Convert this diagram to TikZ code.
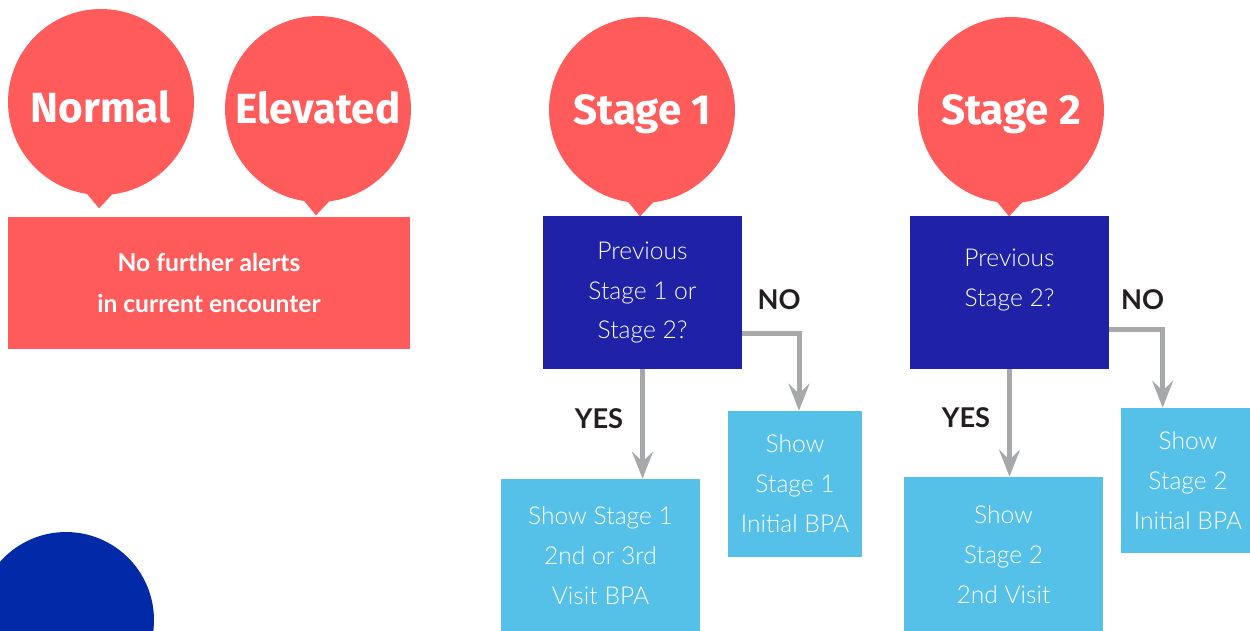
\documentclass[tikz,border=0pt]{standalone}
\usepackage{fontspec}
\setmainfont{Lato}
\newfontfamily\thinfont{Lato Light}
\newfontfamily\bubblefont{Fira Sans}
\usetikzlibrary{arrows.meta,positioning,calc}
\definecolor{alertred}{HTML}{FF5B5B}
\definecolor{deepblue}{HTML}{1F22A6}
\definecolor{skyblue}{HTML}{56C1E8}
\definecolor{royal}{HTML}{022AA8}
\definecolor{flowgray}{HTML}{A7A8AA}
\definecolor{ink}{HTML}{231F20}
\tikzset{
  bubble/.style={circle, fill=alertred, minimum size=3.72cm, inner sep=0pt, text height=0.58cm, text depth=0pt, text=white, font=\bubblefont\bfseries\fontsize{24}{28}\selectfont},
  qtext/.style={text=white, align=center, font=\thinfont\fontsize{14}{22.7}\selectfont},
  question/.style={rectangle, fill=deepblue, minimum width=3.98cm, minimum height=3.06cm, qtext},
  result/.style={rectangle, fill=skyblue, qtext},
  holdbox/.style={rectangle, fill=alertred, minimum width=8.04cm, minimum height=2.64cm, text=white, align=center, font=\bfseries\fontsize{14}{23.2}\selectfont},
  flow/.style={draw=flowgray, line width=0.1cm, -{Stealth[length=0.54cm,width=0.42cm,inset=0.2cm]}},
  answer/.style={text=ink, font=\bfseries\fontsize{15.5}{18}\selectfont},
}
\begin{document}
\begin{tikzpicture}[x=0.02cm, y=-0.02cm]
  \useasboundingbox (0,0) rectangle (1250,630);
  \fill[royal] (66,620) circle[radius=1.76cm];
  \foreach \n/\t/\x/\y/\d in {normal/Normal/101/102/3.5, elevated/Elevated/318/109/0, stageone/Stage 1/642/110/0, stagetwo/Stage 2/1011/110/0}{
    \node[bubble] (\n) at (\x,\y) {\raisebox{-\d pt}{\t}};
    \fill[alertred] ($(\n.south)+(-16,-4)$) -- ($(\n.south)+(14,-4)$) -- ($(\n.south)+(-2,13)$) -- cycle;
  }
  \node[holdbox] (nofurther) at (209,283) {No further alerts\\in current encounter};

  \node[question] (prevone) at (642.5,292.5) {Previous\\Stage 1 or\\Stage 2?};
  \node[question, label={[qtext, yshift=0.25cm]center:{Previous\\Stage 2?}}] (prevtwo) at (1009.5,292.5) {};

  \node[result, minimum width=3.98cm, minimum height=3.06cm] (showone) at (600.5,555.5) {Show Stage 1\\2nd or 3rd\\Visit BPA};
  \node[result, minimum width=2.68cm, minimum height=2.92cm] (initone) at (795,484) {Show\\Stage 1\\Initial BPA};
  \node[result, minimum width=3.98cm, minimum height=3.1cm] (showtwo) at (1003.5,554.5) {Show\\Stage 2\\2nd Visit};
  \node[result, minimum width=2.68cm, minimum height=2.9cm] (inittwo) at (1188,480.5) {Show\\Stage 2\\Initial BPA};

  \draw[flow] (prevone.south) -- (prevone.south |- showone.north) node[answer, midway, left=0.22cm, yshift=0.1cm] (yesone) {YES};
  \draw[flow] ([yshift=0.72cm]prevone.south east) -| ([xshift=0.08cm]initone.north) node[answer, pos=0.5, xshift=-0.4cm, yshift=0.68cm] (noone) {NO};
  \draw[flow] (prevtwo.south) -- (prevtwo.south |- showtwo.north) node[answer, midway, left=0.22cm, yshift=0.1cm] (yestwo) {YES};
  \draw[flow] ([yshift=0.8cm]prevtwo.south east) -| ([xshift=0.84cm]inittwo.north west) node[answer, pos=0.5, xshift=-0.4cm, yshift=0.6cm] (notwo) {NO};
\end{tikzpicture}
\end{document}
